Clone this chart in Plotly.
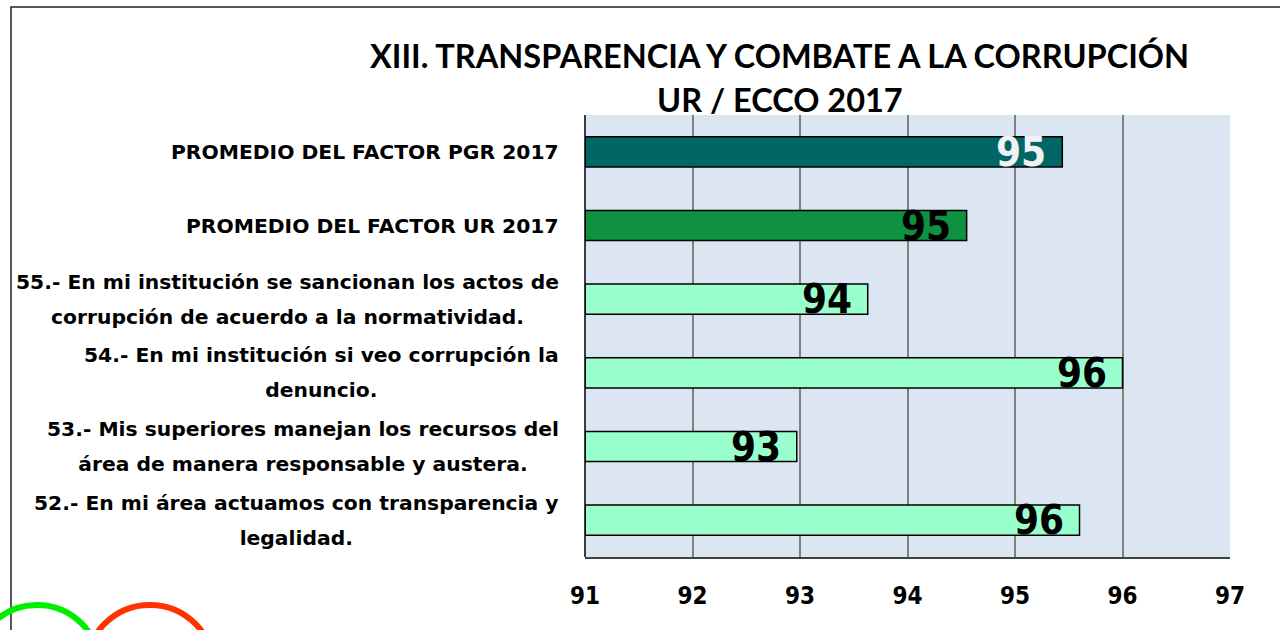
import plotly.graph_objects as go

# Survey items, listed top to bottom as they appear on the chart
categories = [
    "PROMEDIO DEL FACTOR PGR 2017",
    "PROMEDIO DEL FACTOR UR 2017",
    "55.- En mi institución se sancionan los actos de<br>corrupción de acuerdo a la normatividad.",
    "54.- En mi institución si veo corrupción la<br>denuncio.",
    "53.- Mis superiores manejan los recursos del<br>área de manera responsable y austera.",
    "52.- En mi área actuamos con transparencia y<br>legalidad.",
]
scores = [95.44, 94.55, 93.63, 96.0, 92.97, 95.6]
bar_colors = ["#006666", "#0E9140", "#99FFCC", "#99FFCC", "#99FFCC", "#99FFCC"]
label_colors = ["#F2F2F2", "#000000", "#000000", "#000000", "#000000", "#000000"]
x_ticks = [91, 92, 93, 94, 95, 96, 97]

W, H = 1280, 630
L, R, T, B = 585, 50, 115, 73
PW, PH = W - L - R, H - T - B


def px_x(p):
    return (p - L) / PW


def px_y(p):
    return (H - B - p) / PH


fig = go.Figure()
fig.add_trace(go.Bar(
    y=list(range(len(categories))),
    x=[s - x_ticks[0] for s in scores],
    base=x_ticks[0],
    orientation="h",
    width=0.41,
    marker=dict(color=bar_colors, line=dict(color="#000000", width=1.5)),
    hoverinfo="skip",
))

num_font = "DejaVu Sans Condensed, DejaVu Sans, sans-serif"
txt_font = "DejaVu Sans, sans-serif"
label_px = 20.3

annotations = []
# Value labels at the inner end of each bar
for i, (s, c) in enumerate(zip(scores, label_colors)):
    annotations.append(dict(
        x=s, y=i, xref="x", yref="y", text=f"<b>{s:.0f}</b>",
        showarrow=False, xanchor="right", yanchor="middle", xshift=-14,
        font=dict(family=num_font, size=40, color=c),
    ))
# Category labels left of the plot; the outer font size sets the line pitch,
# the inner span sets the glyph size
for i, cat in enumerate(categories):
    lines = cat.split("<br>")
    body = "<br>".join(
        f'<span style="font-size:{label_px}px"><b>{ln}</b></span>' for ln in lines
    )
    annotations.append(dict(
        x=px_x(561), y=i, xref="paper", yref="y", text=body,
        showarrow=False, xanchor="right", yanchor="middle", align="center",
        font=dict(family=txt_font, size=27, color="#000000"),
    ))
# Title
annotations.append(dict(
    x=px_x(779), y=px_y(55), xref="paper", yref="paper",
    text="<b>XIII. TRANSPARENCIA Y COMBATE A LA CORRUPCIÓN</b>",
    showarrow=False, xanchor="center", yanchor="middle",
    font=dict(family="Lato, sans-serif", size=32.5, color="#000000"),
))
annotations.append(dict(
    x=px_x(780), y=px_y(100), xref="paper", yref="paper",
    text="<b>UR / ECCO 2017</b>",
    showarrow=False, xanchor="center", yanchor="middle",
    font=dict(family="Lato, sans-serif", size=32.5, color="#000000"),
))

shapes = [
    # outer frame
    dict(type="rect", xref="paper", yref="paper",
         x0=px_x(11), x1=px_x(1300), y0=px_y(7), y1=px_y(700),
         line=dict(color="#222222", width=1.5), layer="above"),
    # left axis line
    dict(type="line", xref="paper", yref="paper",
         x0=0, x1=0, y0=0, y1=1, line=dict(color="#000000", width=1.5)),
    # decorative rings
    dict(type="circle", xref="paper", yref="paper",
         x0=px_x(-26), x1=px_x(100), y0=px_y(605), y1=px_y(731),
         line=dict(color="#00EE00", width=6)),
    dict(type="circle", xref="paper", yref="paper",
         x0=px_x(86), x1=px_x(214), y0=px_y(605), y1=px_y(733),
         line=dict(color="#FF3300", width=6)),
]

fig.update_layout(
    width=W, height=H,
    margin=dict(l=L, r=R, t=T, b=B),
    paper_bgcolor="#FFFFFF",
    plot_bgcolor="#DCE6F2",
    showlegend=False,
    annotations=annotations,
    shapes=shapes,
    xaxis=dict(
        range=[x_ticks[0], x_ticks[-1]],
        tickvals=x_ticks,
        ticktext=[f"<b>{t}</b>" for t in x_ticks],
        tickfont=dict(family=num_font, size=24, color="#000000"),
        showgrid=True, gridcolor="#808080", gridwidth=1.5,
        showline=True, linecolor="#404040", linewidth=1.5,
        zeroline=False, ticks="", ticklabelstandoff=16,
    ),
    yaxis=dict(
        range=[len(categories) - 0.5, -0.5],
        showticklabels=False, showgrid=False, zeroline=False,
        showline=False,
    ),
)

fig.write_html("out.html")
